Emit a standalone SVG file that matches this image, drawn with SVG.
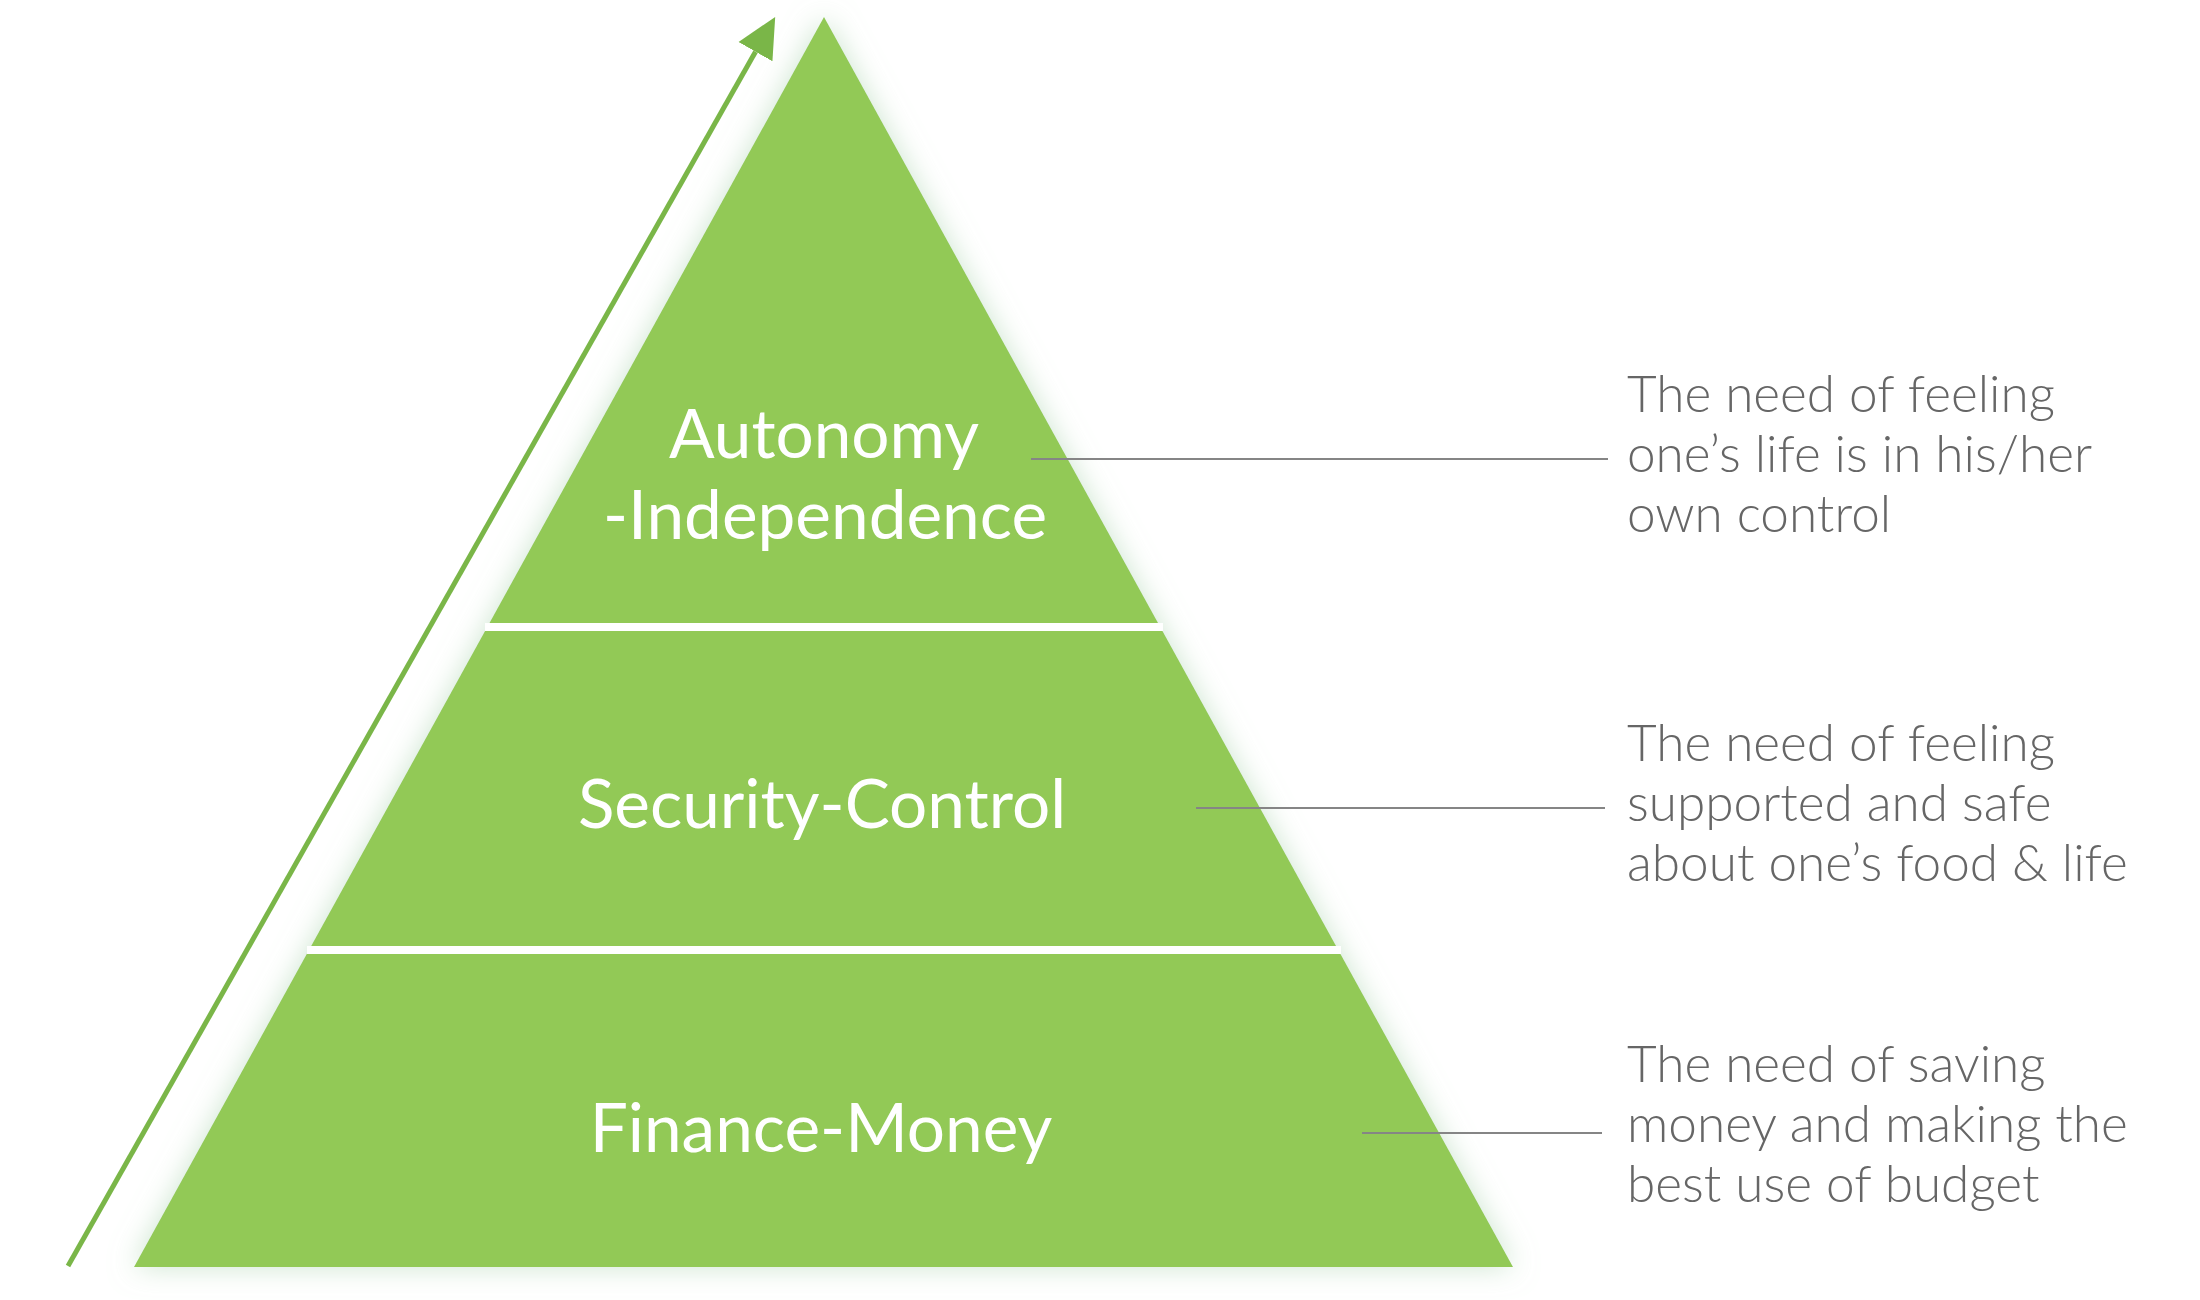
<svg xmlns="http://www.w3.org/2000/svg" width="2200" height="1300" viewBox="0 0 2200 1300">
  <style>
    .lvl { font-family: Lato, "Open Sans", "Liberation Sans", sans-serif; font-size: 67.5px; fill: #ffffff; text-anchor: middle; }
    .desc { font-family: Lato, "Open Sans", "Liberation Sans", sans-serif; font-weight: 300; font-size: 51.3px; fill: #666666; }
    .divider { stroke: #ffffff; stroke-width: 8; }
    .leader { stroke: #858585; stroke-width: 2; fill: none; }
    .arrow { stroke: #7ab648; stroke-width: 5; fill: none; }
  </style>
  <defs>
    <filter id="glow" x="-10%" y="-10%" width="120%" height="120%">
      <feGaussianBlur in="SourceAlpha" stdDeviation="14" result="b"/>
      <feColorMatrix in="b" type="matrix" values="0 0 0 0 0.5  0 0 0 0 0.72  0 0 0 0 0.52  0 0 0 0.75 0" result="g"/>
      <feMerge>
        <feMergeNode in="g"/>
        <feMergeNode in="SourceGraphic"/>
      </feMerge>
    </filter>
    <marker id="head" markerUnits="userSpaceOnUse" markerWidth="40" markerHeight="40" viewBox="0 0 38 37" refX="0" refY="18.5" orient="auto">
      <path d="M0,0 L38,18.5 L0,37 Z" fill="#7ab648"/>
    </marker>
  </defs>
  <rect width="2200" height="1300" fill="#ffffff"/>

  <g id="pyramid">
    <polygon points="824,17 1513,1267 134,1267" fill="#92c956" filter="url(#glow)"/>
    <line class="divider" x1="485" y1="627" x2="1163" y2="627"/>
    <line class="divider" x1="307" y1="950" x2="1341" y2="950"/>
  </g>

  <g id="level-autonomy">
    <text class="lvl" x="824" y="458">Autonomy</text>
    <text class="lvl" x="825" y="539">-Independence</text>
  </g>
  <g id="level-security">
    <text class="lvl" x="822" y="828">Security-Control</text>
  </g>
  <g id="level-finance">
    <text class="lvl" x="821" y="1152">Finance-Money</text>
  </g>

  <g id="desc-autonomy">
    <text class="desc" x="1627" y="412">The need of feeling</text>
    <text class="desc" x="1627" y="472">one’s life is in his/her</text>
    <text class="desc" x="1627" y="532">own control</text>
  </g>
  <g id="desc-security">
    <text class="desc" x="1627" y="761">The need of feeling</text>
    <text class="desc" x="1627" y="821">supported and safe</text>
    <text class="desc" x="1627" y="881">about one’s food &amp; life</text>
  </g>
  <g id="desc-finance">
    <text class="desc" x="1627" y="1082">The need of saving</text>
    <text class="desc" x="1627" y="1142">money and making the</text>
    <text class="desc" x="1627" y="1202">best use of budget</text>
  </g>

  <g id="connectors">
    <line class="arrow" x1="68" y1="1266" x2="755.5" y2="51.7" marker-end="url(#head)"/>
    <line class="leader" x1="1031" y1="459" x2="1608" y2="459"/>
    <line class="leader" x1="1196" y1="808" x2="1605" y2="808"/>
    <line class="leader" x1="1362" y1="1133" x2="1602" y2="1133"/>
  </g>
</svg>
